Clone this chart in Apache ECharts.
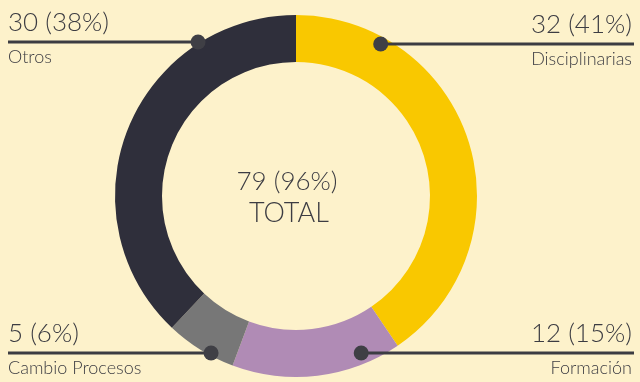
<!DOCTYPE html>
<html>
<head>
<meta charset="utf-8">
<script src="https://cdn.jsdelivr.net/npm/echarts@6/dist/echarts.min.js"></script>
<style>
  html, body { margin: 0; padding: 0; background: #fdf2cb; }
  #chart { width: 640px; height: 382px; }
</style>
</head>
<body>
<div id="chart"></div>
<script>
// Expedientes por tipo
const categories = ['Disciplinarias', 'Formación', 'Cambio Procesos', 'Otros'];
const values = [32, 12, 5, 30];
const percents = [41, 15, 6, 38];
const totalLabel = 'TOTAL';
const totalValue = 79;
const totalPercent = 96;

const colors = ['#f9c800', '#b08bb5', '#777777', '#2f2f3b'];
const textColor = '#3c3c42';
const font = 'Lato, "Open Sans", sans-serif';

const cx = 296, cy = 196, rOut = 181, rIn = 134;

// Callout placement: side, y of the rule, radius where the marker sits on the ring
const callouts = [
  { side: 'right', lineY: 44, r: 174 },
  { side: 'right', lineY: 353, r: 170 },
  { side: 'left', lineY: 353, r: 178.5 },
  { side: 'left', lineY: 42, r: 182.5 }
];

const graphic = [];
categories.forEach((name, i) => {
  const c = callouts[i];
  const dy = c.lineY - cy;
  const dx = Math.sqrt(c.r * c.r - dy * dy);
  const dotX = c.side === 'right' ? cx + dx : cx - dx;
  const x1 = c.side === 'right' ? dotX : 8;
  const x2 = c.side === 'right' ? 634 : dotX;
  graphic.push({
    type: 'line', z: 10,
    shape: { x1: x1, y1: c.lineY, x2: x2, y2: c.lineY },
    style: { stroke: textColor, lineWidth: 3 }
  });
  graphic.push({
    type: 'circle', z: 11,
    shape: { cx: dotX, cy: c.lineY, r: 7.5 },
    style: { fill: '#3f3f45' }
  });
  const tx = c.side === 'right' ? 632 : 8;
  const align = c.side === 'right' ? 'right' : 'left';
  graphic.push({
    type: 'text', z: 10, x: tx, y: c.lineY - 6,
    style: {
      text: values[i] + ' (' + percents[i] + '%)',
      font: '300 26px ' + font, fill: textColor,
      textAlign: align, textVerticalAlign: 'bottom'
    }
  });
  graphic.push({
    type: 'text', z: 10, x: tx, y: c.lineY + 6,
    style: {
      text: name,
      font: '300 18px ' + font, fill: textColor,
      textAlign: align, textVerticalAlign: 'top'
    }
  });
});

graphic.push({
  type: 'text', z: 10, x: 287, y: 182,
  style: {
    text: totalValue + ' (' + totalPercent + '%)',
    font: '300 26px ' + font, fill: textColor,
    textAlign: 'center', textVerticalAlign: 'middle'
  }
});
graphic.push({
  type: 'text', z: 10, x: 289, y: 213,
  style: {
    text: totalLabel,
    font: '300 27px ' + font, fill: textColor,
    textAlign: 'center', textVerticalAlign: 'middle'
  }
});

const chart = echarts.init(document.getElementById('chart'), null, { renderer: 'canvas' });
chart.setOption({
  backgroundColor: '#fdf2cb',
  animation: false,
  series: [{
    type: 'pie',
    center: [cx, cy],
    radius: [rIn, rOut],
    startAngle: 90,
    clockwise: true,
    label: { show: false },
    labelLine: { show: false },
    emphasis: { disabled: true },
    data: categories.map((name, i) => ({
      name: name, value: values[i], itemStyle: { color: colors[i] }
    }))
  }],
  graphic: graphic
});
</script>
</body>
</html>
